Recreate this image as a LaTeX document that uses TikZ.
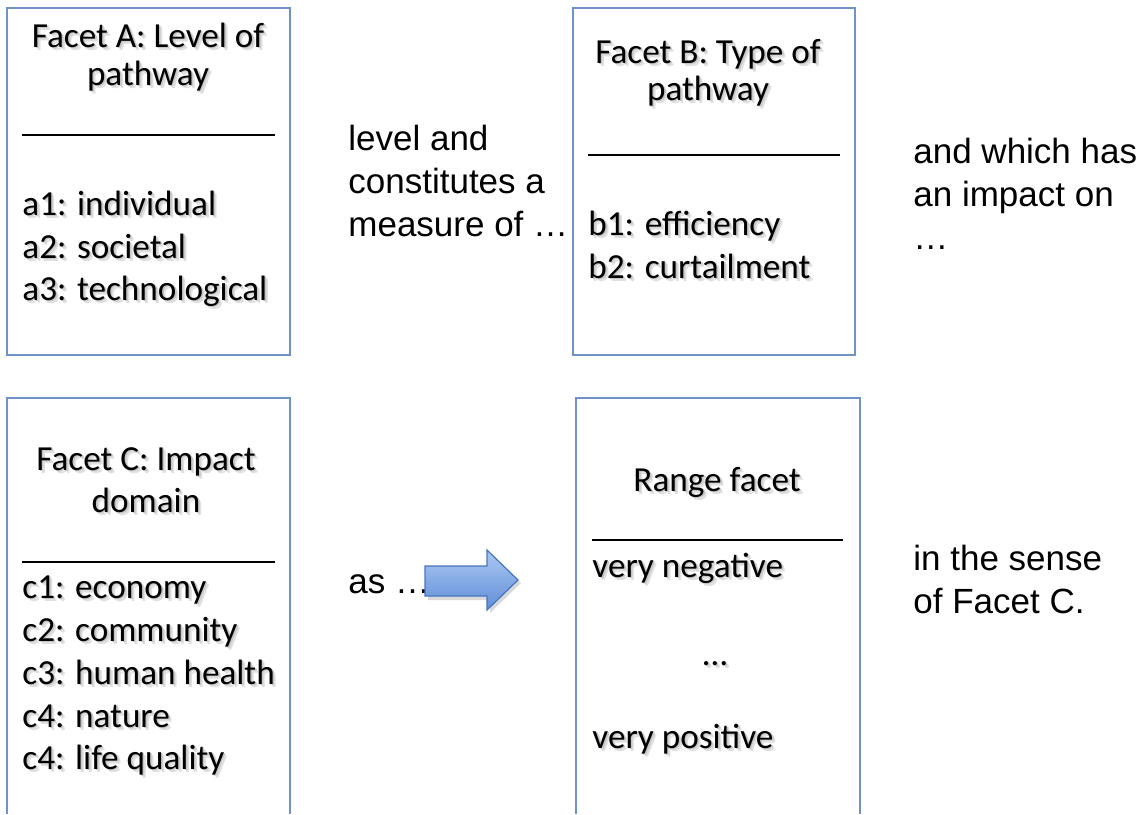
\documentclass[tikz,border=0pt]{standalone}
\usepackage{fontspec}
\setmainfont{Carlito}
\newfontfamily\arialfont{Liberation Sans}
\usetikzlibrary{positioning}
\definecolor{boxblue}{RGB}{111,146,199}
\definecolor{arrowtop}{RGB}{172,200,242}
\definecolor{arrowbot}{RGB}{96,142,216}
\definecolor{arrowedge}{RGB}{70,118,190}
% text with a soft drop shadow
\newcommand{\shd}[1]{\leavevmode\rlap{\kern1.6pt\raisebox{-1.6pt}{\textcolor{black!12}{#1}}}\rlap{\kern0.8pt\raisebox{-0.8pt}{\textcolor{black!22}{#1}}}#1}

\begin{document}
\begin{tikzpicture}[x=0.5pt, y=-0.5pt,
    boxtext/.style={font=\fontsize{17.6}{22}\selectfont, inner sep=0pt},
    sidetext/.style={font=\arialfont\fontsize{17.5}{21}\selectfont, inner sep=0pt, anchor=base west},
    facetbox/.style={draw=boxblue, line width=1pt},
    rule/.style={line width=1.1pt, black}]
			\useasboundingbox (0,0) rectangle (1144,814);

			% boxes
			\draw[facetbox] (7,8) rectangle (290,355);
			\draw[facetbox] (573,8) rectangle (855,355);
			\draw[facetbox] (7,814) -- (7,398) -- (290,398) -- (290,814);
			\draw[facetbox] (576,814) -- (576,398) -- (860,398) -- (860,814);

			% facet A
			\node[boxtext, anchor=base] (ta1) at (148,47) {\shd{Facet A: Level of}};
			\node[boxtext, anchor=base] (ta2) at (148,85) {\shd{pathway}};
			\draw[rule] (22,135) -- (275,135);
			\node[boxtext, anchor=base west] (a1) at (22,215) {\shd{a1: individual}};
			\node[boxtext, anchor=base west] (a2) at (22,258) {\shd{a2: societal}};
			\node[boxtext, anchor=base west] (a3) at (22,300) {\shd{a3: technological}};

			% facet B
			\node[boxtext, anchor=base] (tb1) at (708,63) {\shd{Facet B: Type of}};
			\node[boxtext, anchor=base] (tb2) at (708,100) {\shd{pathway}};
			\draw[rule] (588,155) -- (840,155);
			\node[boxtext, anchor=base west] (b1) at (588,235) {\shd{b1: efficiency}};
			\node[boxtext, anchor=base west] (b2) at (588,278) {\shd{b2: curtailment}};

			% facet C
			\node[boxtext, anchor=base] (tc1) at (146,470) {\shd{Facet C: Impact}};
			\node[boxtext, anchor=base] (tc2) at (146,512) {\shd{domain}};
			\draw[rule] (22,562) -- (275,562);
			\node[boxtext, anchor=base west] (c1) at (22,598) {\shd{c1: economy}};
			\node[boxtext, anchor=base west] (c2) at (22,641) {\shd{c2: community}};
			\node[boxtext, anchor=base west] (c3) at (22,684) {\shd{c3: human health}};
			\node[boxtext, anchor=base west] (c4) at (22,727) {\shd{c4: nature}};
			\node[boxtext, anchor=base west] (c5) at (22,769) {\shd{c4: life quality}};

			% range facet
			\node[boxtext, anchor=base] (tr) at (717,491) {\shd{Range facet}};
			\draw[rule] (592,540) -- (843,540);
			\node[boxtext, anchor=base west] (r1) at (592,577) {\shd{very negative}};
			\node[boxtext, anchor=base] (r2) at (715,665) {\shd{…}};
			\node[boxtext, anchor=base west] (r3) at (592,748) {\shd{very positive}};

			% text between the boxes
			\node[sidetext] (s1) at (348,150) {level and};
			\node[sidetext] (s2) at (348,193) {constitutes a};
			\node[sidetext] (s3) at (348,236) {measure of …};
			\node[sidetext] (s4) at (913,163) {and which has};
			\node[sidetext] (s5) at (913,206) {an impact on};
			\node[sidetext] (s6) at (913,249) {…};
			\node[sidetext] (s7) at (348,593) {as …};
			\node[sidetext] (s8) at (913,570) {in the sense};
			\node[sidetext] (s9) at (913,613) {of Facet C.};

			% block arrow
			\fill[black!15] (428,570) -- (490,570) -- (490,553) -- (521,583) -- (490,613) -- (490,600) -- (428,600) -- cycle;
			\shade[top color=arrowtop, bottom color=arrowbot, draw=arrowedge, line width=0.6pt]
				(425,566) -- (487,566) -- (487,550) -- (518,580) -- (487,610) -- (487,596) -- (425,596) -- cycle;

		\end{tikzpicture}
\end{document}
